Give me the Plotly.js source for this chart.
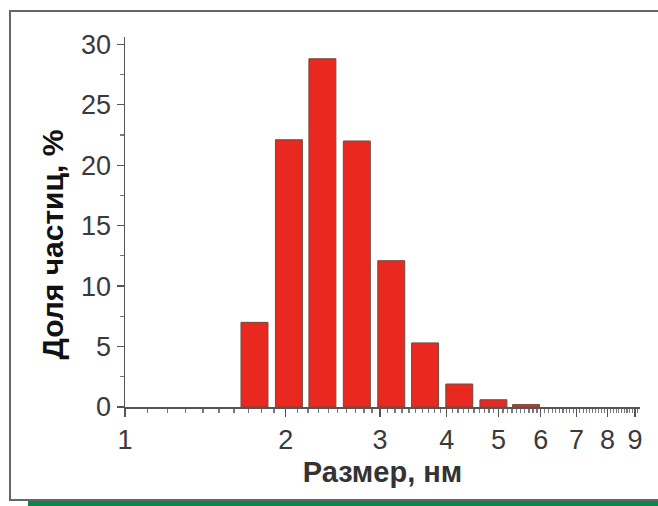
<!DOCTYPE html>
<html>
<head>
<meta charset="utf-8">
<script src="https://cdn.plot.ly/plotly-3.0.1.min.js"></script>
<style>
  html, body { margin:0; padding:0; background:#fff; width:658px; height:506px; overflow:hidden; }
  #frame { position:absolute; left:9px; top:10px; width:720px; height:491px; border:2px solid #666; box-sizing:border-box; }
  #green { position:absolute; left:28px; top:501px; width:640px; height:5px; background:#0e8548; }
  #chart { position:absolute; left:0; top:0; width:658px; height:506px; }
</style>
</head>
<body>
<div id="frame"></div>
<div id="green"></div>
<div id="chart"></div>
<script>
// Bin centres (nm) and particle fractions (%)
const sizes = [1.75, 2.03, 2.345, 2.72, 3.155, 3.65, 4.23, 4.9, 5.64];
const fractions = [7.0, 22.1, 28.8, 22.0, 12.1, 5.3, 1.9, 0.6, 0.2];
const xTickVals = [1, 2, 3, 4, 5, 6, 7, 8, 9];
const xTickText = ['1', '2', '3', '4', '5', '6', '7', '8', '9'];
const yTickVals = [0, 5, 10, 15, 20, 25, 30];
const xTitle = 'Размер, нм';
const yTitle = 'Доля частиц, %';

// bars have equal width in log space: convert to linear width per bar
const halfLog = 0.0252;
const widthFactor = Math.pow(10, halfLog) - Math.pow(10, -halfLog);
const barWidths = sizes.map(s => s * widthFactor);

const minorX = [];
for (let i = 10; i <= 91; i++) { if (i % 10 !== 0) minorX.push(i / 10); }

const tickFont = { family: '"Liberation Sans", Arial, sans-serif', size: 27, color: '#3a3a3a' };

Plotly.newPlot('chart', [{
  type: 'bar',
  x: sizes,
  y: fractions,
  width: barWidths,
  marker: { color: '#e9291f', line: { color: '#6e4a40', width: 1 } },
  hoverinfo: 'x+y'
}], {
  width: 658, height: 506,
  margin: { l: 125, r: 18, t: 37, b: 99 },
  paper_bgcolor: 'rgba(0,0,0,0)',
  plot_bgcolor: 'rgba(0,0,0,0)',
  showlegend: false,
  xaxis: {
    type: 'log',
    range: [0, Math.log10(9.2)],
    tickmode: 'array', tickvals: xTickVals, ticktext: xTickText,
    ticks: 'outside', ticklen: 8, tickwidth: 1.2, tickcolor: '#555',
    showline: true, linecolor: '#555', linewidth: 1.5,
    showgrid: false, zeroline: false,
    tickfont: tickFont,
    minor: { tickmode: 'array', tickvals: minorX, ticks: 'outside', ticklen: 4, tickcolor: '#777', showgrid: false },
    title: { text: '<b>' + xTitle + '</b>', font: { family: '"Liberation Sans", Arial, sans-serif', size: 29, color: '#333' }, standoff: 8 }
  },
  yaxis: {
    range: [0, 30.6],
    tickmode: 'array', tickvals: yTickVals,
    ticks: 'outside', ticklen: 7, tickwidth: 1.2, tickcolor: '#555',
    showline: true, linecolor: '#555', linewidth: 1.5,
    showgrid: false, zeroline: false,
    tickfont: tickFont,
    minor: { dtick: 2.5, ticks: 'outside', ticklen: 4, tickcolor: '#777', showgrid: false }
  },
  annotations: [{
    text: '<b>' + yTitle + '</b>',
    textangle: -90,
    xref: 'paper', yref: 'paper',
    x: -0.141, y: 0.44,
    xanchor: 'center', yanchor: 'middle',
    showarrow: false,
    font: { family: '"Liberation Sans", Arial, sans-serif', size: 30, color: '#111' }
  }]
}, { displayModeBar: false, staticPlot: true });
</script>
</body>
</html>
